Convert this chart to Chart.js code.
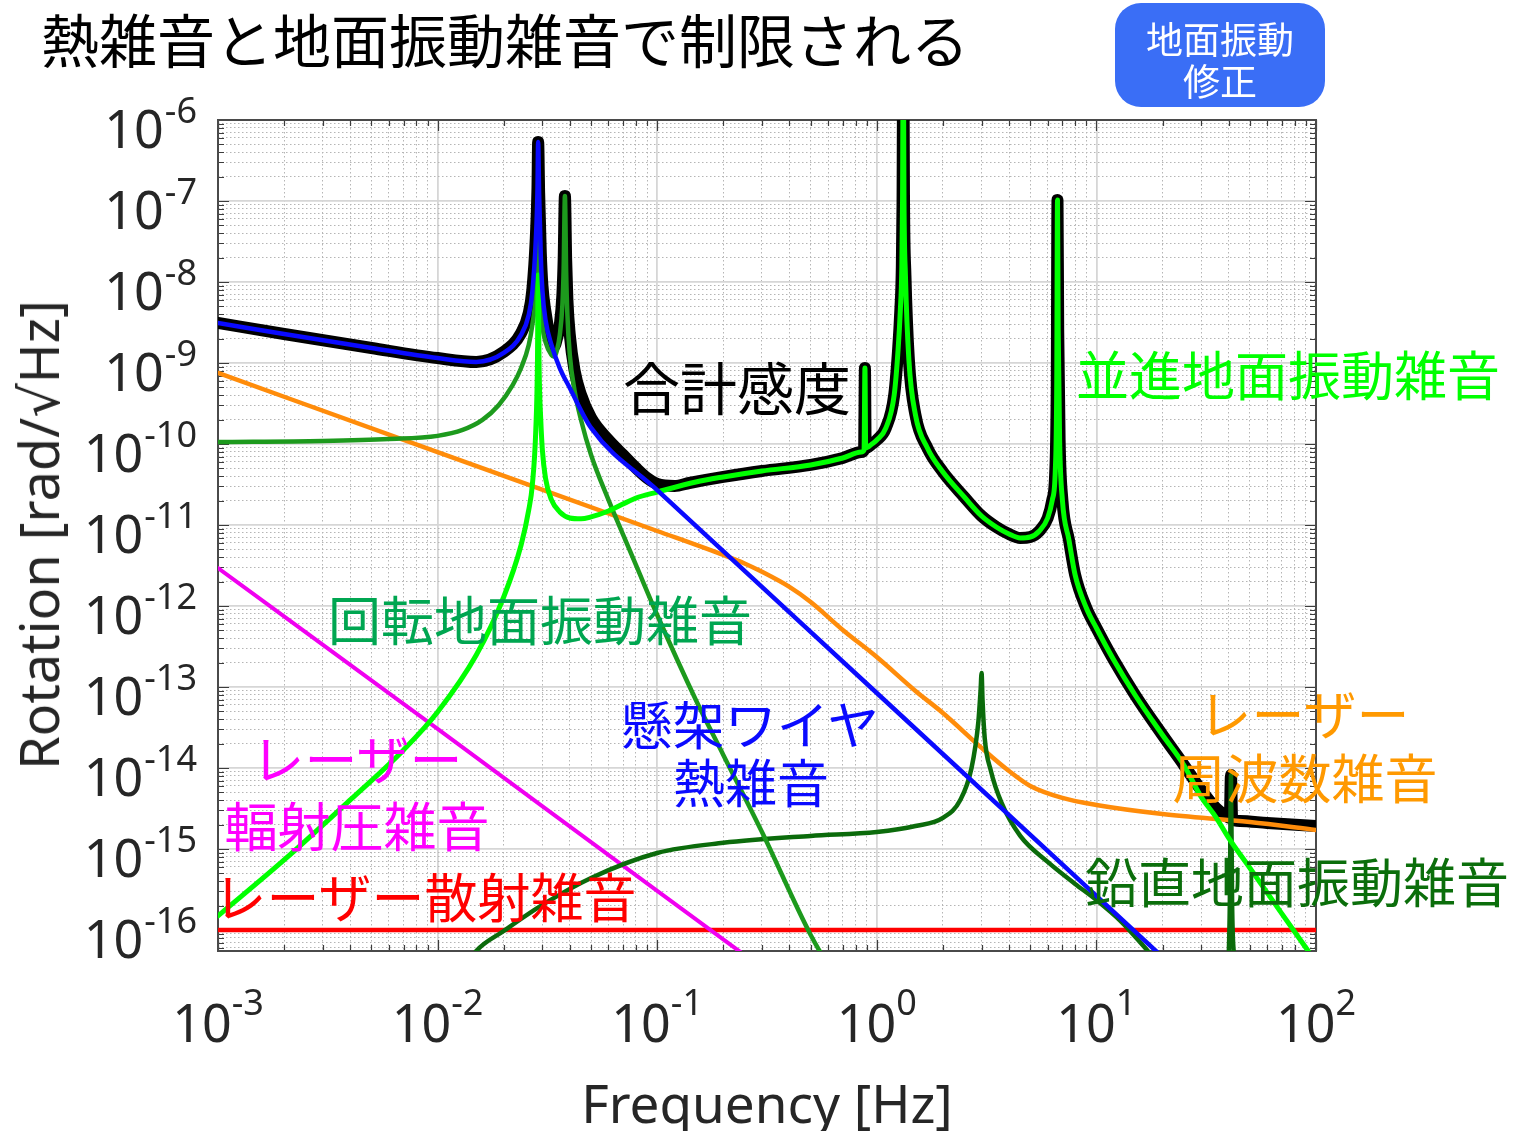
<!DOCTYPE html>
<html lang="ja">
<head>
<meta charset="utf-8">
<title>熱雑音と地面振動雑音で制限される</title>
<script src="https://cdn.jsdelivr.net/npm/chart.js@4.4.1/dist/chart.umd.min.js"></script>
<style>
  html, body { margin: 0; padding: 0; background: #ffffff; }
  #wrap { position: relative; width: 1523px; height: 1131px; overflow: hidden;
          font-family: "Noto Sans CJK JP", "Noto Sans", sans-serif; }
  #plot { position: absolute; left: 0; top: 0; }
  .lbl { position: absolute; white-space: nowrap; line-height: 1; transform: translate(-50%, -50%); }
  .latin { font-family: "Noto Sans", "DejaVu Sans", sans-serif; color: #262626; }
  #badge { position: absolute; left: 1115px; top: 3px; width: 210px; height: 104px;
           background: #3a6ef6; border-radius: 26px; }
</style>
</head>
<body>
<div id="wrap">
  <canvas id="plot" width="1523" height="1131"></canvas>

  <div class="lbl" style="left:505px; top:38px; font-size:58px; color:#000;">熱雑音と地面振動雑音で制限される</div>
  <div id="badge"></div>
  <div class="lbl" style="left:1220px; top:38px; font-size:37px; color:#fff;">地面振動</div>
  <div class="lbl" style="left:1220px; top:80px; font-size:37px; color:#fff;">修正</div>

  <div class="lbl latin" style="left:38px; top:535px; font-size:54px; transform: translate(-50%, -50%) rotate(-90deg);">Rotation [rad/√Hz]</div>
  <div class="lbl latin" style="left:767px; top:1102px; font-size:53px;">Frequency [Hz]</div>

  <div class="lbl" style="left:737px; top:385px; font-size:57px; color:#000;">合計感度</div>
  <div class="lbl" style="left:1288px; top:373px; font-size:53px; color:#00ff00;">並進地面振動雑音</div>
  <div class="lbl" style="left:540px; top:618px; font-size:53px; color:#00a651;">回転地面振動雑音</div>
  <div class="lbl" style="left:750px; top:723px; font-size:52px; color:#0a0aff;">懸架ワイヤ</div>
  <div class="lbl" style="left:751px; top:781px; font-size:52px; color:#0a0aff;">熱雑音</div>
  <div class="lbl" style="left:357px; top:757px; font-size:53px; color:#ff00ff;">レーザー</div>
  <div class="lbl" style="left:357px; top:824px; font-size:53px; color:#ff00ff;">輻射圧雑音</div>
  <div class="lbl" style="left:425px; top:895px; font-size:53px; color:#ff0000;">レーザー散射雑音</div>
  <div class="lbl" style="left:1304px; top:712px; font-size:53px; color:#ff9900;">レーザー</div>
  <div class="lbl" style="left:1305px; top:776px; font-size:53px; color:#ff9900;">周波数雑音</div>
  <div class="lbl" style="left:1297px; top:880px; font-size:53px; color:#0b6e0b;">鉛直地面振動雑音</div>
</div>

<script>
// ---- Noise spectra (frequency in Hz, amplitude in rad/√Hz) ----

// Total sensitivity
const totalHz  = [0.001, 0.002, 0.005, 0.01, 0.015, 0.02, 0.024, 0.026, 0.027, 0.028,
                  0.0285, 0.0287, 0.029, 0.0295, 0.03, 0.031, 0.033, 0.034, 0.035, 0.036,
                  0.037, 0.0375, 0.038, 0.0385, 0.039, 0.04, 0.042, 0.045, 0.05, 0.06,
                  0.07, 0.08, 0.09, 0.1, 0.12, 0.14, 0.2, 0.3, 0.5, 0.7,
                  0.85, 0.875, 0.883, 0.89, 0.95, 1, 1.1, 1.2, 1.25, 1.28,
                  1.3, 1.31, 1.32, 1.33, 1.35, 1.4, 1.5, 1.7, 2, 2.5,
                  3, 3.5, 4, 4.5, 5, 5.5, 6, 6.3, 6.5, 6.6,
                  6.65, 6.7, 6.8, 7, 7.5, 8, 9, 10, 12, 15,
                  20, 25, 30, 35, 39, 40.5, 41, 41.5, 45, 60,
                  100];
const totalAmp = [3.12e-9, 2.28e-9, 1.53e-9, 1.15e-9, 1.03e-9, 1.37e-9, 2.34e-9, 4.14e-9, 7.96e-9, 3.49e-8,
                  1.45e-7, 5.35e-7, 1.26e-7, 2.34e-8, 9.18e-9, 4.27e-9, 1.77e-9, 1.62e-9, 2.04e-9, 2.94e-9,
                  6.92e-9, 1.87e-8, 1.15e-7, 1.87e-8, 6.0e-9, 2.22e-9, 8.20e-10, 4.03e-10, 2.09e-10, 1.12e-10,
                  7.31e-11, 5.06e-11, 3.80e-11, 3.21e-11, 3.03e-11, 3.30e-11, 3.92e-11, 4.64e-11, 5.51e-11, 6.71e-11,
                  7.96e-11, 8.43e-11, 8.67e-10, 8.93e-11, 1.0e-10, 1.12e-10, 1.58e-10, 4.03e-10, 1.45e-9, 4.51e-9,
                  1.53e-8, 1.03e-7, 1e-5, 1.03e-7, 1.22e-8, 1.09e-9, 2.28e-10, 8.93e-11, 4.51e-11, 2.22e-11,
                  1.29e-11, 9.44e-12, 7.74e-12, 6.92e-12, 7.11e-12, 8.43e-12, 1.22e-11, 2.04e-11, 4.77e-11, 6.17e-10,
                  1.03e-7, 2.55e-9, 1.12e-10, 2.04e-11, 6.53e-12, 2.42e-12, 9.44e-13, 5.35e-13, 2.15e-13, 7.96e-14,
                  2.55e-14, 1.09e-14, 5.35e-15, 3.21e-15, 2.55e-15, 2.42e-15, 8.20e-15, 2.34e-15, 2.22e-15, 2.09e-15,
                  1.92e-15];

// Suspension wire thermal noise
const wireHz  = [0.001, 0.002, 0.005, 0.01, 0.015, 0.02, 0.024, 0.026, 0.027, 0.028,
                 0.0285, 0.0287, 0.029, 0.0295, 0.03, 0.031, 0.033, 0.036, 0.04, 0.05,
                 0.1, 1, 10, 100];
const wireAmp = [3.12e-9, 2.28e-9, 1.53e-9, 1.15e-9, 1.03e-9, 1.33e-9, 2.22e-9, 3.92e-9, 7.53e-9, 3.30e-8,
                 1.37e-7, 5.35e-7, 1.19e-7, 2.15e-8, 7.96e-9, 3.40e-9, 1.67e-9, 8.67e-10, 4.91e-10, 1.58e-10,
                 2.70e-11, 8.43e-14, 2.63e-16, 8.2e-19];

// Translational ground vibration noise
const transHz  = [0.001, 0.002, 0.004, 0.007, 0.01, 0.015, 0.02, 0.024, 0.026, 0.027,
                  0.028, 0.0285, 0.0287, 0.029, 0.0295, 0.03, 0.031, 0.033, 0.036, 0.04,
                  0.045, 0.05, 0.06, 0.08, 0.1, 0.15, 0.2, 0.3, 0.5, 0.7,
                  0.85, 0.875, 0.883, 0.89, 0.95, 1, 1.1, 1.2, 1.25, 1.28,
                  1.3, 1.31, 1.32, 1.33, 1.35, 1.4, 1.5, 1.7, 2, 2.5,
                  3, 3.5, 4, 4.5, 5, 5.5, 6, 6.3, 6.5, 6.6,
                  6.65, 6.7, 6.8, 7, 7.5, 8, 9, 10, 12, 15,
                  20, 25, 30, 35, 40, 50, 70, 100];
const transAmp = [1.49e-16, 7.31e-16, 4.03e-15, 1.67e-14, 4.91e-14, 2.48e-13, 1.29e-12, 5.66e-12, 1.53e-11, 3.12e-11,
                  1.49e-10, 1.09e-9, 1.22e-8, 8.20e-10, 1.98e-10, 8.43e-11, 3.80e-11, 2.04e-11, 1.45e-11, 1.22e-11,
                  1.19e-11, 1.26e-11, 1.49e-11, 2.15e-11, 2.55e-11, 3.40e-11, 3.92e-11, 4.64e-11, 5.51e-11, 6.71e-11,
                  7.96e-11, 8.43e-11, 8.67e-10, 8.93e-11, 1.0e-10, 1.12e-10, 1.58e-10, 4.03e-10, 1.45e-9, 4.51e-9,
                  1.53e-8, 1.03e-7, 1e-5, 1.03e-7, 1.22e-8, 1.09e-9, 2.28e-10, 8.93e-11, 4.51e-11, 2.22e-11,
                  1.29e-11, 9.44e-12, 7.74e-12, 6.92e-12, 7.11e-12, 8.43e-12, 1.22e-11, 2.04e-11, 4.77e-11, 6.17e-10,
                  1.03e-7, 2.55e-9, 1.12e-10, 2.04e-11, 6.53e-12, 2.42e-12, 9.44e-13, 5.35e-13, 2.15e-13, 7.96e-14,
                  2.55e-14, 1.09e-14, 4.39e-15, 2.48e-15, 1.37e-15, 5.82e-16, 1.58e-16, 4.03e-17];

// Rotational ground vibration noise
const rotHz  = [0.001, 0.003, 0.006, 0.01, 0.013, 0.016, 0.019, 0.022, 0.024, 0.026,
                0.027, 0.028, 0.0285, 0.0287, 0.029, 0.0295, 0.03, 0.031, 0.033, 0.034,
                0.035, 0.036, 0.037, 0.0375, 0.038, 0.0385, 0.039, 0.04, 0.042, 0.045,
                0.05, 0.06, 0.07, 0.08, 0.1, 0.15, 0.2, 0.3, 0.5, 0.7];
const rotAmp = [1.06e-10, 1.09e-10, 1.15e-10, 1.26e-10, 1.49e-10, 1.98e-10, 3.03e-10, 5.35e-10, 8.67e-10, 1.67e-9,
                2.94e-9, 6.92e-9, 2.15e-8, 3.80e-8, 1.77e-8, 6.0e-9, 2.94e-9, 1.82e-9, 1.26e-9, 1.19e-9,
                1.45e-9, 2.22e-9, 5.20e-9, 1.49e-8, 1.15e-7, 1.33e-8, 3.92e-9, 1.26e-9, 4.64e-10, 1.98e-10,
                7.31e-11, 2.04e-11, 7.53e-12, 3.21e-12, 7.74e-13, 6.92e-14, 1.45e-14, 1.62e-15, 8.67e-17, 1.82e-17];

// Vertical ground vibration noise
const vertHz  = [0.01, 0.015, 0.02, 0.03, 0.05, 0.1, 0.2, 0.5, 1, 1.5,
                 2, 2.4, 2.7, 2.9, 2.97, 3, 3.03, 3.1, 3.3, 3.7,
                 4.5, 6, 8, 10, 13, 17, 25, 35, 39, 40,
                 40.5, 41, 41.5, 42.5, 45, 100];
const vertAmp = [1.03e-17, 5.51e-17, 9.72e-17, 2.04e-16, 4.39e-16, 8.93e-16, 1.19e-15, 1.45e-15, 1.62e-15, 1.92e-15,
                 2.42e-15, 4.03e-15, 1.0e-14, 3.70e-14, 9.18e-14, 1.49e-13, 6.92e-14, 2.34e-14, 9.44e-15, 3.70e-15,
                 1.45e-15, 6.92e-16, 3.70e-16, 2.34e-16, 1.26e-16, 5.66e-17, 1.82e-17, 1.03e-17, 2.09e-17, 4.51e-17,
                 2.04e-16, 8.20e-15, 2.04e-16, 4.51e-17, 1.82e-17, 1.41e-18];

// Laser frequency noise
const freqNoiseHz  = [0.001, 0.01, 0.1, 0.2, 0.25, 0.3, 0.4, 0.5, 0.7, 1,
                      1.5, 2, 3, 4, 5, 7, 10, 20, 50, 100];
const freqNoiseAmp = [7.53e-10, 7.96e-11, 8.43e-12, 4.26e-12, 3.35e-12, 2.64e-12, 1.72e-12, 1.12e-12, 5.06e-13, 2.34e-13,
                      8.93e-14, 4.78e-14, 1.77e-14, 9.18e-15, 6.0e-15, 4.27e-15, 3.49e-15, 2.70e-15, 2.15e-15, 1.72e-15];

// Laser radiation pressure noise
const radHz  = [0.001, 0.01, 0.1, 1];
const radAmp = [2.94e-12, 3.03e-14, 3.03e-16, 3.12e-18];

// Laser scattering noise
const scatHz  = [0.001, 100];
const scatAmp = [1.0e-16, 1.0e-16];

// Decade labels on each axis (exponents of 10)
const xTickExp = [-3, -2, -1, 0, 1, 2];
const yTickExp = [-16, -15, -14, -13, -12, -11, -10, -9, -8, -7, -6];

// ---- helpers ----
const pts = (fs, vs) => fs.map((f, i) => ({ x: f, y: vs[i] }));

function logTicks(scale) {
  const lo = Math.floor(Math.log10(scale.min));
  const hi = Math.ceil(Math.log10(scale.max));
  const out = [];
  for (let e = lo; e <= hi; e++) {
    for (let m = 1; m <= 9; m++) {
      const v = m * Math.pow(10, e);
      if (v >= scale.min * 0.999999 && v <= scale.max * 1.000001) out.push({ value: v, major: m === 1 });
    }
  }
  scale.ticks = out;
}

const gridStyle = {
  display: true,
  drawTicks: false,
  drawOnChartArea: true,
  color: c => (c.tick && c.tick.major) ? '#d6d6d6' : '#b5b5b5',
  lineWidth: c => (c.tick && c.tick.major) ? 1.8 : 1
};
const borderStyle = {
  display: false,
  dash: c => (c.tick && c.tick.major) ? [] : [1.5, 2.5]
};

// Inward tick marks, axes box and 10^n labels
const axisDecor = {
  id: 'axisDecor',
  beforeDatasetsDraw(chart) {
    const { ctx, chartArea: a, scales: { x, y } } = chart;
    ctx.save();
    ctx.strokeStyle = '#3c3c3c';
    ctx.lineWidth = 1.2;
    ctx.beginPath();
    x.ticks.forEach(t => {
      const p = Math.round(x.getPixelForValue(t.value)) + 0.5;
      const len = t.major ? 11 : 6;
      ctx.moveTo(p, a.bottom); ctx.lineTo(p, a.bottom - len);
      ctx.moveTo(p, a.top); ctx.lineTo(p, a.top + len);
    });
    y.ticks.forEach(t => {
      const p = Math.round(y.getPixelForValue(t.value)) + 0.5;
      const len = t.major ? 11 : 6;
      ctx.moveTo(a.left, p); ctx.lineTo(a.left + len, p);
      ctx.moveTo(a.right, p); ctx.lineTo(a.right - len, p);
    });
    ctx.stroke();
    ctx.strokeStyle = '#4a4a4a';
    ctx.lineWidth = 2;
    ctx.strokeRect(a.left, a.top, a.right - a.left, a.bottom - a.top);
    ctx.restore();
  },
  afterDraw(chart) {
    const { ctx, chartArea: a, scales: { x, y } } = chart;
    const baseFont = '52px "Noto Sans", "DejaVu Sans", sans-serif';
    const expFont = '36px "Noto Sans", "DejaVu Sans", sans-serif';
    ctx.save();
    ctx.fillStyle = '#262626';
    ctx.textBaseline = 'alphabetic';
    ctx.textAlign = 'left';
    xTickExp.forEach(e => {
      const px = x.getPixelForValue(Math.pow(10, e));
      const s = String(e);
      ctx.font = baseFont; const wb = ctx.measureText('10').width;
      ctx.font = expFont; const we = ctx.measureText(s).width;
      const left = px - (wb + we) / 2;
      ctx.font = baseFont; ctx.fillText('10', left, a.bottom + 91);
      ctx.font = expFont; ctx.fillText(s, left + wb, a.bottom + 64);
    });
    yTickExp.forEach(e => {
      const py = y.getPixelForValue(Math.pow(10, e));
      const s = String(e);
      const right = a.left - 21;
      ctx.font = expFont; const we = ctx.measureText(s).width;
      ctx.textAlign = 'right';
      ctx.fillText(s, right, py + 3);
      ctx.font = baseFont;
      ctx.fillText('10', right - we - 1, py + 28);
    });
    ctx.restore();
  }
};

const line = (data, color, width, order) => ({
  data, borderColor: color, backgroundColor: color, borderWidth: width,
  showLine: true, fill: false, pointRadius: 0, pointHoverRadius: 0,
  cubicInterpolationMode: 'monotone',
  clip: 0, order
});

new Chart(document.getElementById('plot'), {
  type: 'scatter',
  data: {
    datasets: [
      line(pts(wireHz, wireAmp), '#0a0aff', 4.5, 0),
      line(pts(transHz, transAmp), '#00ff00', 5, 1),
      line(pts(rotHz, rotAmp), '#1d9a1d', 4.5, 2),
      line(pts(vertHz, vertAmp), '#0b6b0b', 4.5, 3),
      line(pts(freqNoiseHz, freqNoiseAmp), '#ff8c0a', 4.5, 4),
      line(pts(radHz, radAmp), '#f000f0', 4, 5),
      line(pts(scatHz, scatAmp), '#ff0000', 4.5, 6),
      line(pts(totalHz, totalAmp), '#000000', 12, 10)
    ]
  },
  options: {
    responsive: false,
    maintainAspectRatio: false,
    animation: false,
    devicePixelRatio: 1,
    events: [],
    layout: { padding: { left: 218, top: 120, right: 207, bottom: 180 } },
    plugins: { legend: { display: false }, tooltip: { enabled: false } },
    elements: {
      point: { radius: 0, hoverRadius: 0 },
      line: { borderJoinStyle: 'round', borderCapStyle: 'round' }
    },
    scales: {
      x: {
        type: 'logarithmic', min: 1e-3, max: 1e2,
        afterBuildTicks: logTicks,
        ticks: { display: false, autoSkip: false },
        title: { display: false },
        grid: gridStyle, border: borderStyle
      },
      y: {
        type: 'logarithmic', min: 5.5e-17, max: 1e-6,
        afterBuildTicks: logTicks,
        ticks: { display: false, autoSkip: false },
        title: { display: false },
        grid: gridStyle, border: borderStyle
      }
    }
  },
  plugins: [axisDecor]
});
</script>
</body>
</html>
